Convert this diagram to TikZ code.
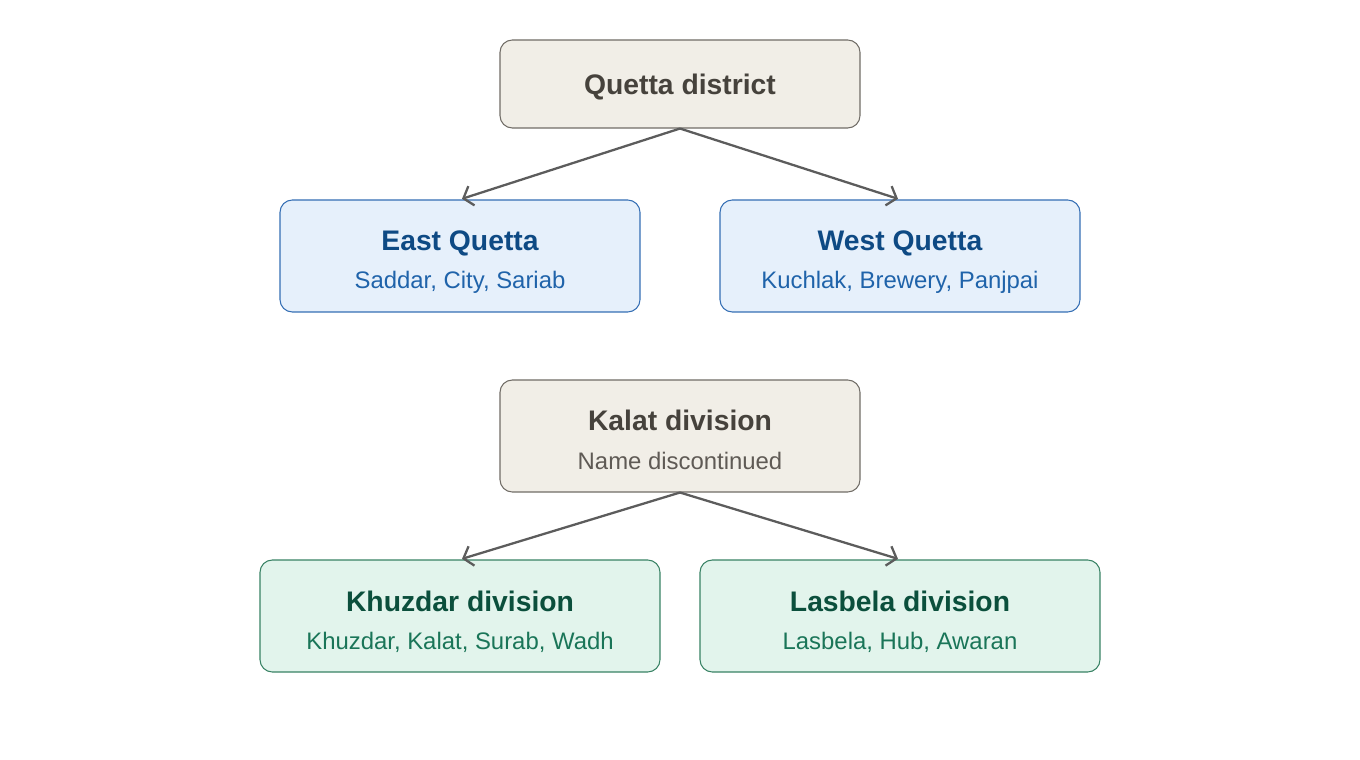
\documentclass[tikz,border=0pt]{standalone}
\usepackage{fontspec}
\setmainfont{Liberation Sans}
\usepackage{tikz}
\usetikzlibrary{calc,arrows.meta,positioning}
\definecolor{regionFill}{RGB}{241,238,231}
\definecolor{regionLine}{RGB}{112,108,102}
\definecolor{regionText}{RGB}{70,66,60}
\definecolor{regionSub}{RGB}{95,90,85}
\definecolor{eastFill}{RGB}{230,240,251}
\definecolor{eastLine}{RGB}{52,110,180}
\definecolor{eastText}{RGB}{14,74,132}
\definecolor{eastSub}{RGB}{31,99,170}
\definecolor{divFill}{RGB}{226,244,236}
\definecolor{divLine}{RGB}{56,130,100}
\definecolor{divText}{RGB}{11,79,60}
\definecolor{divSub}{RGB}{26,117,88}
\definecolor{linkGray}{RGB}{92,92,92}

\begin{document}
\begin{tikzpicture}[x=0.02cm, y=-0.02cm,
  box/.style={draw, line width=0.6pt, rounded corners=7pt, inner sep=0pt},
  ttl/.style={font=\fontsize{16.1}{19}\selectfont\bfseries, anchor=base, inner sep=0pt},
  sub/.style={font=\fontsize{13.6}{16}\selectfont, anchor=base, inner sep=0pt},
  link/.style={linkGray, line width=1.3pt, -{Straight Barb[length=4.8pt, width=11.5pt]}, shorten >=1.2pt}]
\useasboundingbox (0,0) rectangle (1360,760);
% upper tree
\node[box, draw=regionLine, fill=regionFill, minimum width=360*0.02cm, minimum height=88*0.02cm] (qd) at (680,84) {};
\node[ttl, text=regionText] (qdT) at (680,95) {Quetta district};
\node[box, draw=eastLine, fill=eastFill, minimum width=360*0.02cm, minimum height=112*0.02cm] (eq) at (460,256) {};
\node[ttl, text=eastText] (eqT) at (460,251) {East Quetta};
\node[sub, text=eastSub] (eqS) at (460,289) {Saddar, City, Sariab};
\node[box, draw=eastLine, fill=eastFill, minimum width=360*0.02cm, minimum height=112*0.02cm] (wq) at (900,256) {};
\node[ttl, text=eastText] (wqT) at (900,251) {West Quetta};
\node[sub, text=eastSub] (wqS) at (900,289) {Kuchlak, Brewery, Panjpai};
\draw[link] (qd.south) -- (eq.north);
\draw[link] (qd.south) -- (wq.north);
% lower tree
\node[box, draw=regionLine, fill=regionFill, minimum width=360*0.02cm, minimum height=112*0.02cm] (kd) at (680,436) {};
\node[ttl, text=regionText] (kdT) at (680,431) {Kalat division};
\node[sub, text=regionSub] (kdS) at (680,469) {Name discontinued};
\node[box, draw=divLine, fill=divFill, minimum width=400*0.02cm, minimum height=112*0.02cm] (kz) at (460,616) {};
\node[ttl, text=divText] (kzT) at (460,611) {Khuzdar division};
\node[sub, text=divSub] (kzS) at (460,649) {Khuzdar, Kalat, Surab, Wadh};
\node[box, draw=divLine, fill=divFill, minimum width=400*0.02cm, minimum height=112*0.02cm] (lb) at (900,616) {};
\node[ttl, text=divText] (lbT) at (900,611) {Lasbela division};
\node[sub, text=divSub] (lbS) at (900,649) {Lasbela, Hub, Awaran};
\draw[link] (kd.south) -- (kz.north);
\draw[link] (kd.south) -- (lb.north);
\end{tikzpicture}
\end{document}
